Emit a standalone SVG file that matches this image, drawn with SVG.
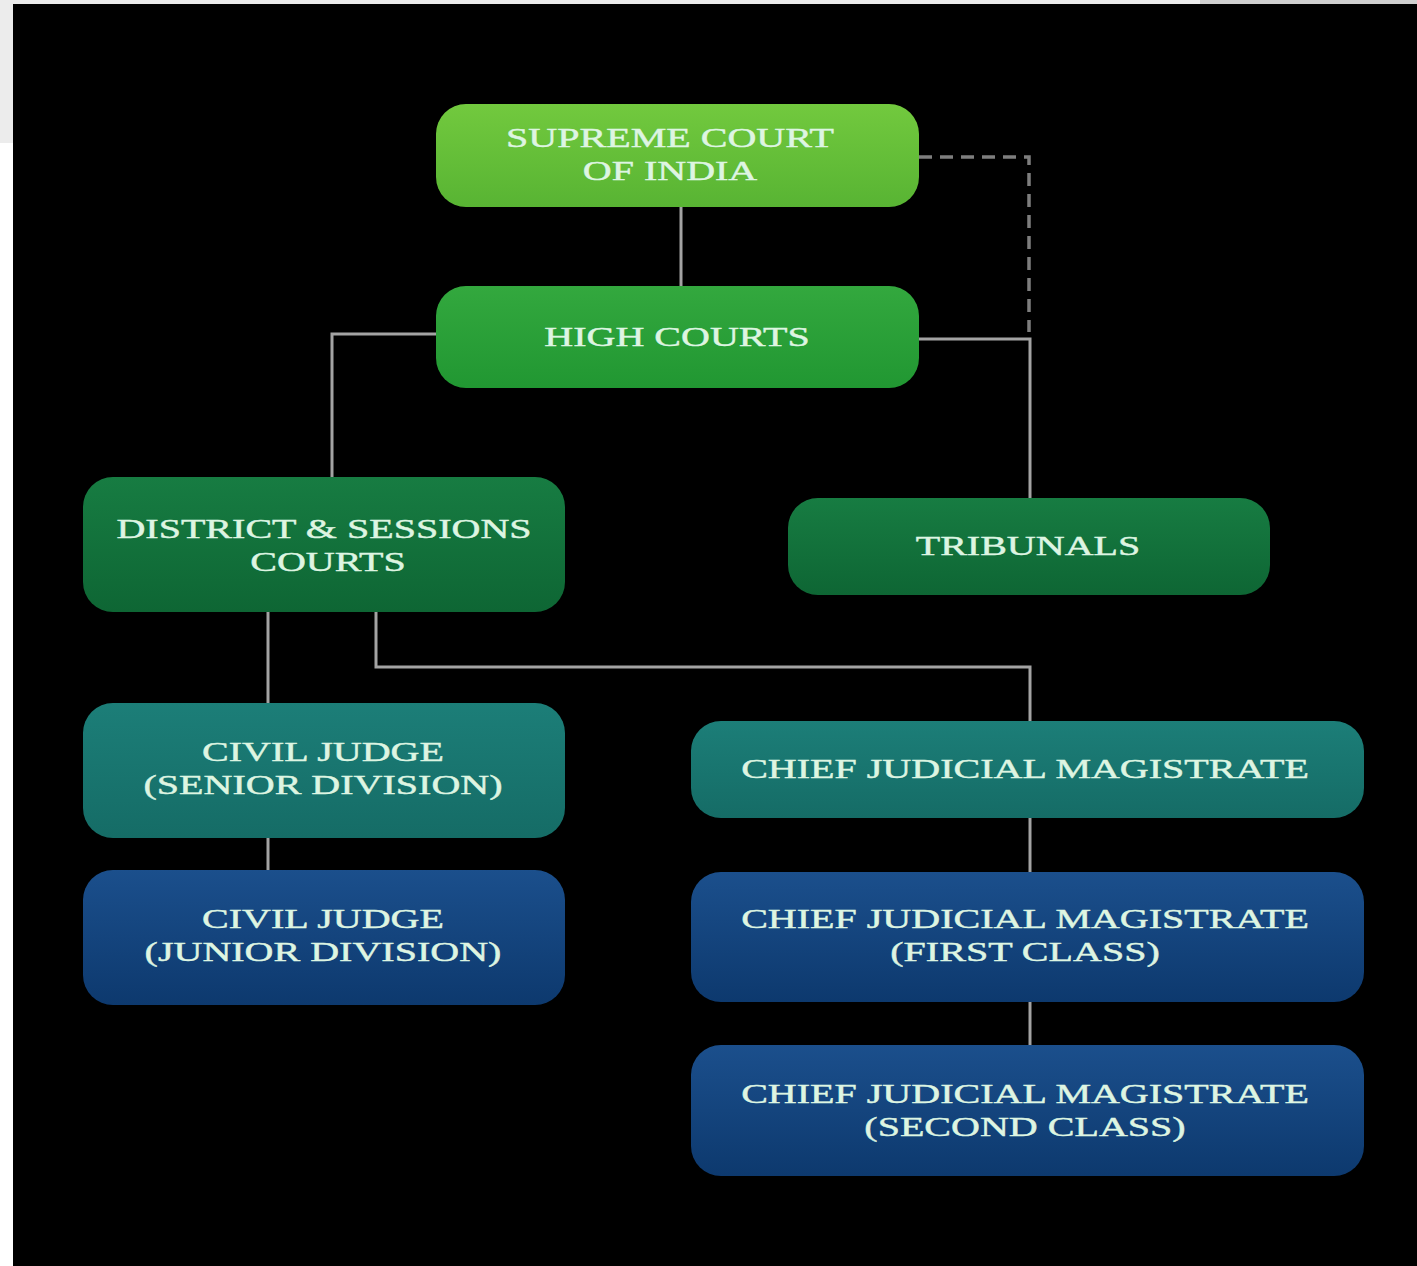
<svg xmlns="http://www.w3.org/2000/svg" width="1417" height="1266" viewBox="0 0 1417 1266">
<defs>
<linearGradient id="gSC" x1="0" y1="0" x2="0" y2="1"><stop offset="0" stop-color="#72c93e"/><stop offset="1" stop-color="#58b433"/></linearGradient>
<linearGradient id="gHC" x1="0" y1="0" x2="0" y2="1"><stop offset="0" stop-color="#33a83e"/><stop offset="1" stop-color="#219732"/></linearGradient>
<linearGradient id="gDG" x1="0" y1="0" x2="0" y2="1"><stop offset="0" stop-color="#177c42"/><stop offset="1" stop-color="#0e6634"/></linearGradient>
<linearGradient id="gTE" x1="0" y1="0" x2="0" y2="1"><stop offset="0" stop-color="#1c7e78"/><stop offset="1" stop-color="#156c66"/></linearGradient>
<linearGradient id="gNV" x1="0" y1="0" x2="0" y2="1"><stop offset="0" stop-color="#1b4f8c"/><stop offset="1" stop-color="#0d396e"/></linearGradient>
</defs>
<style>
.t{font-family:"Liberation Serif","Times New Roman",serif;font-size:28px;fill:#def5e2;stroke:#def5e2;stroke-width:0.45;text-anchor:middle}
.c{fill:none;stroke:#a3a3a3;stroke-width:3}
.d{fill:none;stroke:#7e7e7e;stroke-width:3.5;stroke-dasharray:13 8}
</style>
<rect x="0" y="0" width="1417" height="1266" fill="#ffffff"/>
<rect x="0" y="0" width="1417" height="143" fill="#ececec"/>
<rect x="1200" y="0" width="217" height="4" fill="#d0d0d0"/>
<rect x="13" y="4" width="1404" height="1262" fill="#000000"/>

<g id="connectors">
<line class="c" x1="681" y1="206" x2="681" y2="287"/>
<polyline class="d" points="919,157 1029,157 1029,332"/>
<polyline class="c" points="918,339 1030,339 1030,499"/>
<polyline class="c" points="437,334 332,334 332,478"/>
<line class="c" x1="268" y1="611" x2="268" y2="704"/>
<polyline class="c" points="376,611 376,667 1030,667 1030,722"/>
<line class="c" x1="268" y1="837" x2="268" y2="871"/>
<line class="c" x1="1030" y1="817" x2="1030" y2="873"/>
<line class="c" x1="1030" y1="1001" x2="1030" y2="1046"/>
</g>

<g id="supreme-court">
<rect x="436" y="104" width="483" height="103" rx="30" fill="url(#gSC)"/>
<text class="t" transform="translate(670,147) scale(1.43,1)">SUPREME COURT</text>
<text class="t" transform="translate(670,180) scale(1.43,1)">OF INDIA</text>
</g>
<g id="high-courts">
<rect x="436" y="286" width="483" height="102" rx="30" fill="url(#gHC)"/>
<text class="t" transform="translate(677,346) scale(1.43,1)">HIGH COURTS</text>
</g>
<g id="district-sessions">
<rect x="83" y="477" width="482" height="135" rx="30" fill="url(#gDG)"/>
<text class="t" transform="translate(324,538) scale(1.43,1)">DISTRICT &amp; SESSIONS</text>
<text class="t" transform="translate(328,571) scale(1.43,1)">COURTS</text>
</g>
<g id="tribunals">
<rect x="788" y="498" width="482" height="97" rx="30" fill="url(#gDG)"/>
<text class="t" transform="translate(1028,555) scale(1.43,1)">TRIBUNALS</text>
</g>
<g id="civil-senior">
<rect x="83" y="703" width="482" height="135" rx="30" fill="url(#gTE)"/>
<text class="t" transform="translate(323,761) scale(1.43,1)">CIVIL JUDGE</text>
<text class="t" transform="translate(323,794) scale(1.43,1)">(SENIOR DIVISION)</text>
</g>
<g id="civil-junior">
<rect x="83" y="870" width="482" height="135" rx="30" fill="url(#gNV)"/>
<text class="t" transform="translate(323,928) scale(1.43,1)">CIVIL JUDGE</text>
<text class="t" transform="translate(323,961) scale(1.43,1)">(JUNIOR DIVISION)</text>
</g>
<g id="cjm">
<rect x="691" y="721" width="673" height="97" rx="30" fill="url(#gTE)"/>
<text class="t" transform="translate(1025,778) scale(1.43,1)">CHIEF JUDICIAL MAGISTRATE</text>
</g>
<g id="cjm-first">
<rect x="691" y="872" width="673" height="130" rx="30" fill="url(#gNV)"/>
<text class="t" transform="translate(1025,928) scale(1.43,1)">CHIEF JUDICIAL MAGISTRATE</text>
<text class="t" transform="translate(1025,961) scale(1.43,1)">(FIRST CLASS)</text>
</g>
<g id="cjm-second">
<rect x="691" y="1045" width="673" height="131" rx="30" fill="url(#gNV)"/>
<text class="t" transform="translate(1025,1103) scale(1.43,1)">CHIEF JUDICIAL MAGISTRATE</text>
<text class="t" transform="translate(1025,1136) scale(1.43,1)">(SECOND CLASS)</text>
</g>
</svg>
